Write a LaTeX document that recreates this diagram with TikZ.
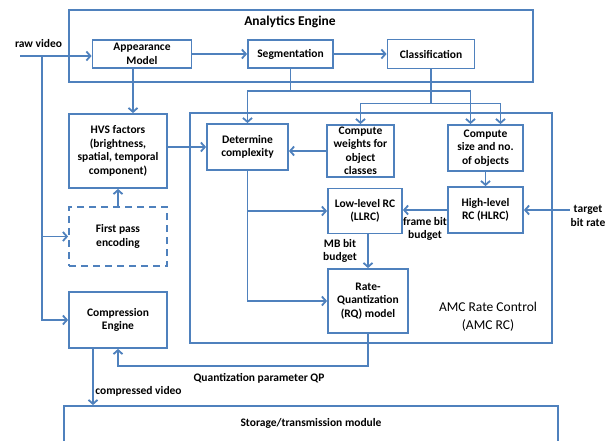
\documentclass[tikz,border=0pt]{standalone}
\usepackage{fontspec}
\setmainfont{Carlito}
\usetikzlibrary{arrows.meta}
\definecolor{amcblue}{RGB}{79,129,189}

\begin{document}
\begin{tikzpicture}[x=1pt, y=-1pt, line width=1.8pt, >={Straight Barb[length=4pt,width=9pt]},
    box/.style={draw=amcblue, align=center, inner sep=1pt, font=\bfseries\fontsize{11.5}{13.5}\selectfont},
    lbl/.style={align=center, inner sep=0pt, font=\bfseries\fontsize{11.5}{13.5}\selectfont},
    wire/.style={draw=amcblue, ->}]
    \useasboundingbox (0,0) rectangle (613,440);

    % Containers
    \node[box, minimum width=464pt, minimum height=72pt] (ae) at (301,46) {};
    \node[lbl, font=\bfseries\fontsize{13.5}{16}\selectfont] (aetitle) at (290,22) {Analytics Engine};
    \node[box, minimum width=362pt, minimum height=230pt] (amc) at (371,228) {};
    \node[lbl, font=\fontsize{13.5}{18}\selectfont] (amctitle) at (488,317) {AMC Rate Control\\(AMC RC)};

    % Analytics blocks
    \node[box, minimum width=99pt, minimum height=28pt] (app) at (142,54) {Appearance\\Model};
    \node[box, minimum width=85pt, minimum height=28pt] (seg) at (290.5,54) {Segmentation};
    \node[box, minimum width=87pt, minimum height=29pt] (cls) at (431,54) {Classification};

    % Left column
    \node[box, minimum width=98pt, minimum height=74pt] (hvs) at (118,151) {HVS factors\\(brightness,\\spatial, temporal\\component)};
    \node[box, dashed, dash pattern=on 7pt off 5pt, minimum width=98pt, minimum height=59pt] (fpe) at (118,236.5) {First pass\\encoding};
    \node[box, minimum width=98pt, minimum height=56pt] (ce) at (118,320) {Compression\\Engine};
    \node[box, text depth=8pt, minimum width=494pt, minimum height=40pt] (st) at (311,426) {Storage/transmission module};

    % Rate control blocks
    \node[box, minimum width=81pt, minimum height=46pt] (dc) at (247.5,147) {Determine\\complexity};
    \node[box, minimum width=67pt, minimum height=52pt] (cw) at (360.5,151) {Compute\\weights for\\object\\classes};
    \node[box, minimum width=75pt, minimum height=46pt] (cs) at (485.5,148) {Compute\\size and no.\\of objects};
    \node[box, minimum width=74pt, minimum height=45pt] (ll) at (365,211) {Low-level RC\\(LLRC)};
    \node[box, minimum width=75pt, minimum height=46pt] (hl) at (485.5,210) {High-level\\RC (HLRC)};
    \node[box, minimum width=80pt, minimum height=64pt] (rq) at (368,301) {Rate-\\Quantization\\(RQ) model};

    % Labels
    \node[lbl] (raw) at (38.5,44) {raw video};
    \node[lbl] (tgt) at (588,216) {target\\bit rate};
    \node[lbl] (fbb) at (425,229) {frame bit\\budget};
    \node[lbl] (mbb) at (340,251) {MB bit\\budget};
    \node[lbl] (qp) at (259,378) {Quantization parameter QP};
    \node[lbl] (cv) at (138.5,391) {compressed video};

    % Input branches
    \coordinate (rawin) at (20,56);
    \coordinate (rawsplit) at (42,56);
    \draw[wire] (rawin) -- (rawin -| app.west);
    \draw[wire] (rawsplit) |- (fpe.west);
    \draw[wire] (rawsplit) |- (ce.west);

    % Analytics chain
    \draw[wire] (app) -- (seg);
    \draw[wire] (seg) -- (cls);
    \draw[wire] ([xshift=-9pt]app.south) -- ([xshift=-9pt]app.south |- hvs.north);
    \draw[wire] (fpe.north) -- (hvs.south);
    \draw[wire] (seg.south) -- ++(0,22) -| (dc.north);
    \draw[wire] (seg.south) -- ++(0,22) -| ([xshift=-15pt]cs.north);
    \draw[wire] (cls.south) -- ++(0,34) -| (cw.north);
    \draw[wire] (cls.south) -- ++(0,34) -| ([xshift=15pt]cs.north);

    % Rate control
    \draw[wire] (dc.west -| hvs.east) -- (dc.west);
    \draw[wire] (cw.west) -- (cw.west -| dc.east);
    \draw[wire] (cs.south) -- (hl.north);
    \draw[wire] (tgt.west |- hl.east) -- (hl.east);
    \draw[wire] (hl.west) -- (hl.west -| ll.east);
    \draw[wire] (ll.south -| rq.north) -- (rq.north);
    \draw[wire] (dc.south) |- (ll.west);
    \draw[wire] (dc.south) |- (rq.west);

    % Outputs
    \draw[wire] (rq.south) -- ++(0,32) -| (ce.south);
    \draw[wire] ([xshift=-25pt]ce.south) -- ([xshift=-25pt]ce.south |- st.north);
\end{tikzpicture}
\end{document}
